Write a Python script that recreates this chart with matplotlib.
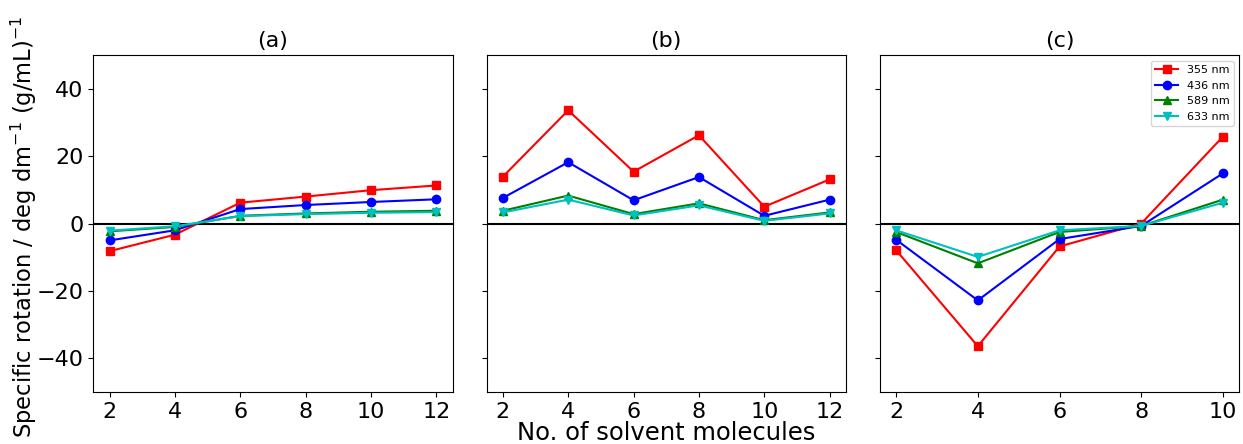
import matplotlib
matplotlib.use("Agg")
import matplotlib.pyplot as plt

x_ab = [2, 4, 6, 8, 10, 12]
x_c = [2, 4, 6, 8, 10]
labels = ["355 nm", "436 nm", "589 nm", "633 nm"]
colors = ["r", "b", "g", "c"]
markers = ["s", "o", "^", "v"]

a_355 = [-8.2, -3.3, 6.2, 8.0, 9.9, 11.3]
a_436 = [-5.0, -2.0, 4.3, 5.5, 6.4, 7.2]
a_589 = [-2.3, -1.0, 2.3, 3.0, 3.5, 3.8]
a_633 = [-2.1, -0.8, 2.2, 2.8, 3.2, 3.4]

b_355 = [13.9, 33.6, 15.4, 26.2, 5.0, 13.1]
b_436 = [7.6, 18.2, 6.9, 13.8, 2.3, 7.1]
b_589 = [3.8, 8.3, 2.8, 6.0, 1.0, 3.3]
b_633 = [3.3, 7.1, 2.4, 5.4, 0.8, 3.0]

c_355 = [-7.9, -36.4, -6.8, 0.0, 25.8]
c_436 = [-4.8, -22.8, -4.6, -0.7, 14.9]
c_589 = [-2.5, -11.8, -2.5, -0.7, 7.1]
c_633 = [-2.0, -9.9, -2.0, -0.7, 6.2]

panels = [
    ("(a)", x_ab, [a_355, a_436, a_589, a_633]),
    ("(b)", x_ab, [b_355, b_436, b_589, b_633]),
    ("(c)", x_c, [c_355, c_436, c_589, c_633]),
]

fig, axes = plt.subplots(1, 3, figsize=(12.43, 4.44), dpi=100, sharey=True)
fig.subplots_adjust(left=0.075, right=0.997, bottom=0.117, top=0.876, wspace=0.094)

for ax, (title, xs, series) in zip(axes, panels):
    ax.axhline(0, color="k", lw=1.5, zorder=1)
    for ys, lab, c, m in zip(series, labels, colors, markers):
        ax.plot(xs, ys, color=c, marker=m, label=lab, lw=1.5, ms=6)
    ax.set_title(title, fontsize=16)
    ax.set_xticks(xs)
    ax.tick_params(labelsize=16)
    ax.set_ylim(-50, 50)
    ax.set_yticks([-40, -20, 0, 20, 40])

axes[0].set_ylabel("Specific rotation / deg dm$^{-1}$ (g/mL)$^{-1}$", fontsize=16.3)
axes[0].yaxis.set_label_coords(-0.15, 0.49)
axes[1].set_xlabel("No. of solvent molecules", fontsize=17.5, labelpad=-0.5)
axes[2].legend(loc="upper right", fontsize=8)

fig.savefig("out.png", dpi=100)
